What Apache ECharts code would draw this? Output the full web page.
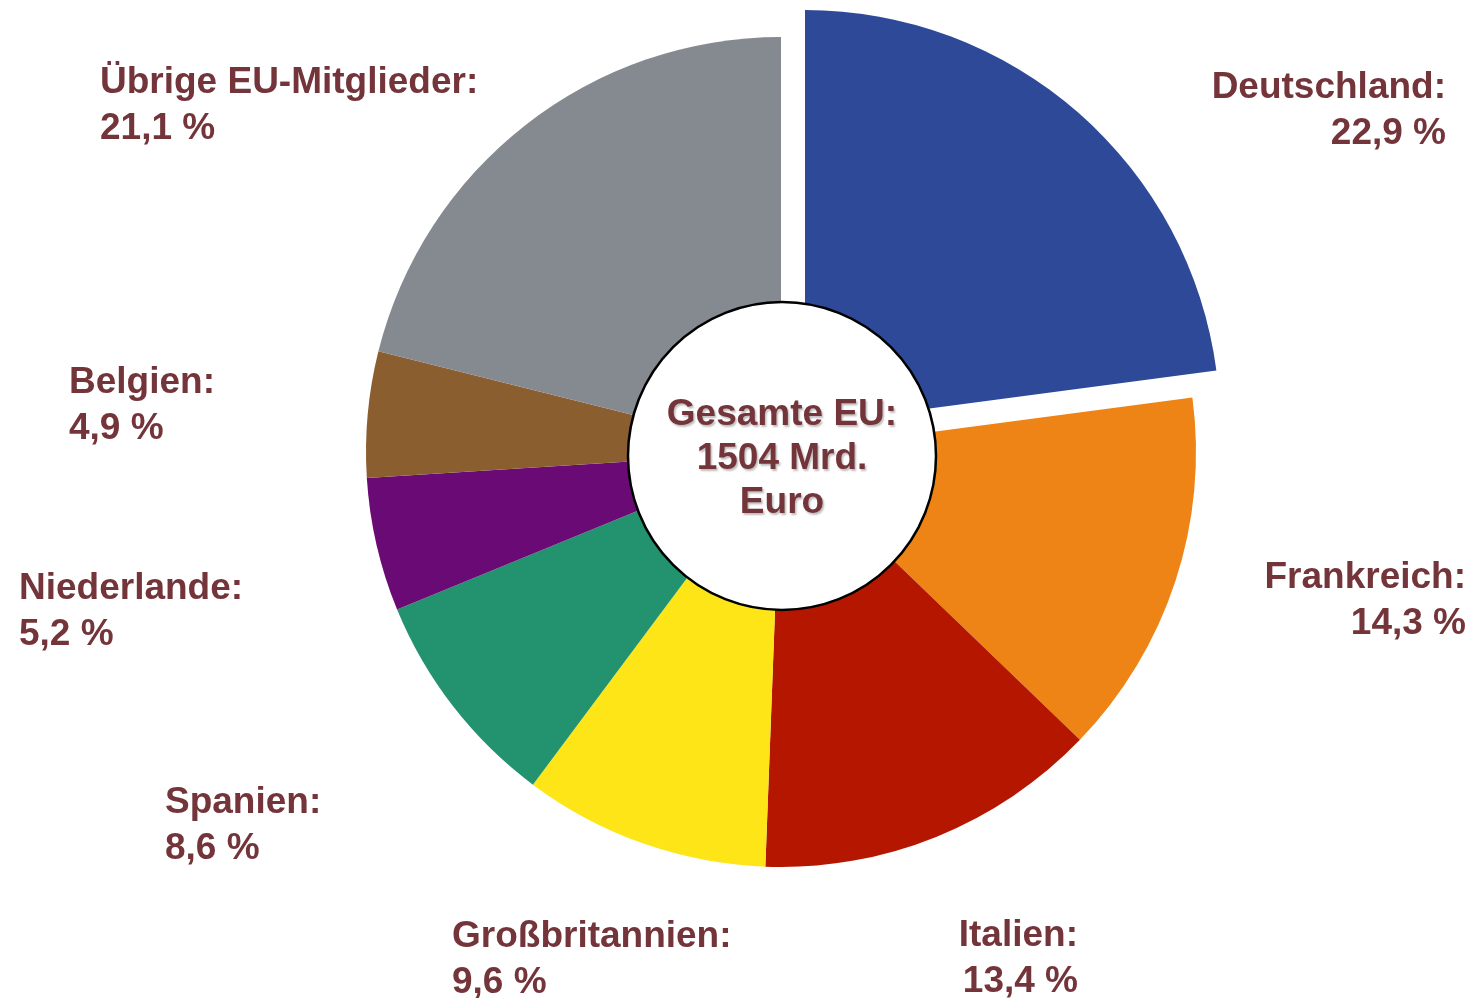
<!DOCTYPE html>
<html>
<head>
<meta charset="utf-8">
<title>EU Anteile</title>
<script src="https://cdn.jsdelivr.net/npm/echarts@6/dist/echarts.min.js"></script>
<style>
html, body { margin: 0; padding: 0; background: #fff; }
#main { width: 1473px; height: 998px; }
</style>
</head>
<body>
<div id="main"></div>
<script>
// Daten
var laender = ['Deutschland', 'Frankreich', 'Italien', 'Großbritannien', 'Spanien', 'Niederlande', 'Belgien', 'Übrige EU-Mitglieder'];
var anteile = [22.9, 14.3, 13.4, 9.6, 8.6, 5.2, 4.9, 21.1];
var farben = ['#2D4998', '#EE8416', '#B41600', '#FDE517', '#23926E', '#6A0A74', '#8B5E30', '#858990'];
var gesamtText = ['Gesamte EU:', '1504 Mrd.', 'Euro'];
var herausgezogen = 0; // Deutschland wird herausgezogen

// Position der Beschriftungen (x, y-Mitte, Ausrichtung)
var labelPos = [
    [1446, 111, 'right'],
    [1466, 601, 'right'],
    [1078, 959, 'right'],
    [452, 960, 'left'],
    [165, 826, 'left'],
    [19, 612, 'left'],
    [69, 406, 'left'],
    [100, 106, 'left']
];

var textFarbe = '#73343A';
var schrift = '"Liberation Sans", Arial, Helvetica, sans-serif';
var mitte = [781, 452];
var versatz = [24, -27]; // Verschiebung des herausgezogenen Stücks

var datenHaupt = [];
var datenRaus = [];
for (var i = 0; i < laender.length; i++) {
    datenHaupt.push({
        name: laender[i],
        value: anteile[i],
        itemStyle: { color: i == herausgezogen ? 'rgba(0,0,0,0)' : farben[i] }
    });
    datenRaus.push({
        name: laender[i],
        value: anteile[i],
        itemStyle: { color: i == herausgezogen ? farben[i] : 'rgba(0,0,0,0)' }
    });
}

var myChart = echarts.init(document.getElementById('main'));

var option = {
    animation: false,
    series: [{
        type: 'pie',
        z: 2,
        center: mitte,
        radius: [0, 415],
        startAngle: 90,
        clockwise: true,
        avoidLabelOverlap: false,
        silent: true,
        itemStyle: { borderWidth: 0 },
        label: {
            show: true,
            position: 'outside',
            color: textFarbe,
            fontFamily: schrift,
            fontWeight: 'bold',
            fontSize: 37,
            lineHeight: 46,
            formatter: function (p) {
                return p.name + ':\n' + String(p.value).replace('.', ',') + ' %';
            }
        },
        labelLine: { show: false },
        labelLayout: function (p) {
            var lp = labelPos[p.dataIndex];
            return {
                x: lp[0],
                y: lp[1],
                align: lp[2],
                verticalAlign: 'middle'
            };
        },
        data: datenHaupt
    }, {
        type: 'pie',
        z: 2,
        center: [mitte[0] + versatz[0], mitte[1] + versatz[1]],
        radius: [0, 415],
        startAngle: 90,
        clockwise: true,
        silent: true,
        itemStyle: { borderWidth: 0 },
        label: { show: false },
        labelLine: { show: false },
        data: datenRaus
    }, {
        type: 'pie',
        z: 4,
        center: [782, 456],
        radius: [0, 154],
        silent: true,
        itemStyle: {
            color: '#ffffff',
            borderColor: '#000000',
            borderWidth: 2.5
        },
        label: {
            show: true,
            position: 'center',
            offset: [0, 3],
            color: textFarbe,
            fontFamily: schrift,
            fontWeight: 'bold',
            fontSize: 37,
            lineHeight: 44,
            textShadowColor: 'rgba(110,110,110,0.45)',
            textShadowBlur: 2,
            textShadowOffsetX: 1.5,
            textShadowOffsetY: 1.5,
            formatter: gesamtText.join('\n')
        },
        labelLine: { show: false },
        data: [{ name: 'Gesamte EU', value: 1504 }]
    }]
};

myChart.setOption(option);
</script>
</body>
</html>
